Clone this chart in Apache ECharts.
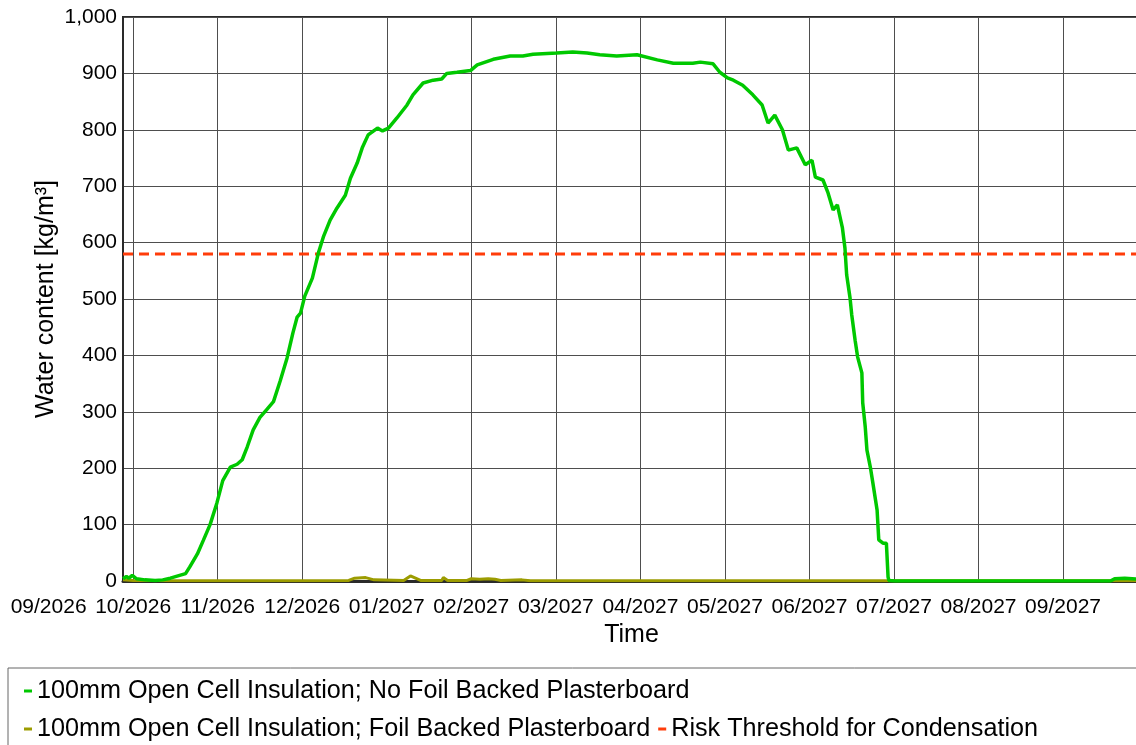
<!DOCTYPE html>
<html>
<head>
<meta charset="utf-8">
<script src="https://cdn.jsdelivr.net/npm/echarts@6/dist/echarts.min.js"></script>
<style>
html,body{margin:0;padding:0;background:#fff;}
#chart{width:1136px;height:745px;}
</style>
</head>
<body>
<div id="chart"></div>
<script>
// x unit: month index, 0 = 10/2026 (months are drawn equally spaced)
const monthLabels = ['09/2026','10/2026','11/2026','12/2026','01/2027','02/2027','03/2027','04/2027','05/2027','06/2027','07/2027','08/2027','09/2027'];
const firstLabelIndex = -1;
const xMin = -0.12;
const xMax = 11.91;

const seriesNames = [
  '100mm Open Cell Insulation; No Foil Backed Plasterboard',
  '100mm Open Cell Insulation; Foil Backed Plasterboard',
  'Risk Threshold for Condensation'
];

// 100mm Open Cell Insulation; No Foil Backed Plasterboard  [month index, kg/m3]
const noFoilX = [-0.12,-0.08,-0.05,-0.01,0.01,0.04,0.14,0.26,0.35,0.44,0.53,0.62,0.67,0.76,0.83,0.91,0.99,1.06,1.15,1.23,1.29,1.35,1.42,1.50,1.58,1.66,1.74,1.82,1.89,1.94,1.98,2.03,2.12,2.19,2.25,2.33,2.41,2.51,2.57,2.65,2.71,2.78,2.89,2.95,3.02,3.12,3.24,3.31,3.43,3.55,3.65,3.71,3.83,3.99,4.07,4.26,4.46,4.61,4.73,5.01,5.20,5.37,5.52,5.72,5.96,6.20,6.39,6.62,6.71,6.86,6.94,7.03,7.10,7.21,7.33,7.44,7.51,7.59,7.68,7.75,7.85,7.95,8.03,8.07,8.16,8.22,8.28,8.33,8.39,8.42,8.44,8.48,8.50,8.54,8.57,8.62,8.63,8.66,8.68,8.72,8.75,8.80,8.82,8.87,8.91,8.93,8.94,9.01,10.25,11.56,11.61,11.73,11.91];
const noFoilY = [4,8,5,10,13,4,2,1,2,5,9,13,25,48,72,100,138,178,202,207,215,238,268,290,304,318,355,395,440,468,475,505,537,581,610,640,661,684,714,741,768,791,803,798,803,821,844,862,883,888,890,900,902,905,915,925,931,931,934,936,938,936,933,931,933,924,918,918,920,917,902,892,888,879,862,844,812,826,800,764,768,738,746,716,711,688,658,667,626,590,543,502,472,427,397,369,316,273,232,202,174,126,73,67,67,7,1,0,0,0,4,5,3];

// 100mm Open Cell Insulation; Foil Backed Plasterboard
const foilX = [-0.12,0.0,0.5,0.93,0.94,0.96,1.88,1.90,1.92,2.55,2.62,2.75,2.85,3.20,3.28,3.34,3.40,3.65,3.67,3.72,3.95,4.00,4.10,4.20,4.28,4.35,4.60,4.70,11.91];
const foilY = [2,1,0.5,0.5,4,0.5,0.5,4,0.5,1,5,6,2,1,9,5,1,1,6,1,1,4,3,4,3,1,2,0.5,0.5];

// Risk threshold
const thresholdValue = 580;

const yTicks = {min:0, max:1000, interval:100};

const colors = {noFoil:'#00c800', foil:'#9c9c00', threshold:'#ff3c0a'};
const FONT = 'Liberation Sans, Arial, sans-serif';

function pairs(xs, ys){ return xs.map((x,i)=>[x, ys[i]]); }

const GRID_LEFT = 123, GRID_RIGHT = -4, GRID_TOP = 17, GRID_BOTTOM = 164;
const width0 = 1136 - GRID_RIGHT - GRID_LEFT;
const pxPerMonth = width0 / (xMax - xMin);
const labelGridLeft = GRID_LEFT + (firstLabelIndex - xMin) * pxPerMonth;

const chart = echarts.init(document.getElementById('chart'), null, {renderer:'canvas'});
chart.setOption({
  animation:false,
  backgroundColor:'#fff',
  grid:[
    {left:GRID_LEFT, top:GRID_TOP, right:GRID_RIGHT, bottom:GRID_BOTTOM, show:true, borderColor:'#2a2a2a', borderWidth:2, containLabel:false, outerBoundsMode:'none'},
    {left:labelGridLeft, top:GRID_TOP, right:GRID_RIGHT, bottom:GRID_BOTTOM, show:false, containLabel:false, outerBoundsMode:'none'}
  ],
  xAxis:[
    {
      gridIndex:0, type:'value', min:xMin, max:xMax, splitNumber:12,
      axisLine:{show:true, onZero:false, lineStyle:{color:'#2a2a2a', width:3}},
      axisTick:{show:false},
      axisLabel:{show:false},
      splitLine:{show:true, lineStyle:{color:'#4e4e4e', width:1}},
      name:'Time', nameLocation:'middle', nameGap:42, nameMoveOverlap:false,
      nameTextStyle:{fontSize:25, fontFamily:FONT, color:'#000'}
    },
    {
      gridIndex:1, type:'value', min:firstLabelIndex, max:xMax, interval:1,
      axisLine:{show:false}, axisTick:{show:false}, splitLine:{show:false},
      axisLabel:{
        show:true, margin:16, fontSize:21, fontFamily:FONT, color:'#000',
        showMinLabel:true, showMaxLabel:false, interval:0,
        formatter:function(v){
          const r = Math.round(v);
          if (Math.abs(v - r) > 1e-6) return '';
          return monthLabels[r - firstLabelIndex] || '';
        }
      }
    }
  ],
  yAxis:[
    {
      gridIndex:0, type:'value', min:yTicks.min, max:yTicks.max, interval:yTicks.interval,
      axisLine:{show:true, onZero:false, lineStyle:{color:'#2a2a2a', width:2}},
      axisTick:{show:false},
      splitLine:{show:true, lineStyle:{color:'#4e4e4e', width:1}},
      axisLabel:{margin:6, fontSize:21, fontFamily:FONT, color:'#000',
        formatter:function(v){ return v.toLocaleString('en-US'); }},
      name:'Water content [kg/m³]', nameLocation:'middle', nameGap:64, nameMoveOverlap:false,
      nameTextStyle:{fontSize:25, fontFamily:FONT, color:'#000'}
    },
    {gridIndex:1, type:'value', min:0, max:1000, show:false}
  ],
  legend:{
    left:8, top:668, width:1060, orient:'horizontal',
    padding:[8, 400, 200, 16],
    itemGap:8, itemWidth:8, itemHeight:3, icon:'rect',
    borderColor:'#666', borderWidth:1,
    textStyle:{fontSize:25.2, fontFamily:FONT, color:'#000', lineHeight:30},
    data:seriesNames
  },
  series:[
    {
      name:seriesNames[1], type:'line', xAxisIndex:0, yAxisIndex:0,
      data:pairs(foilX, foilY), showSymbol:false, symbol:'none', z:3,
      lineStyle:{color:colors.foil, width:3}, itemStyle:{color:colors.foil}
    },
    {
      name:seriesNames[2], type:'line', xAxisIndex:0, yAxisIndex:0,
      data:[[xMin, thresholdValue],[xMax, thresholdValue]], showSymbol:false, symbol:'none', z:4,
      lineStyle:{color:colors.threshold, width:3, type:[10,6]}, itemStyle:{color:colors.threshold}
    },
    {
      name:seriesNames[0], type:'line', xAxisIndex:0, yAxisIndex:0,
      data:pairs(noFoilX, noFoilY), showSymbol:false, symbol:'none', z:5,
      lineStyle:{color:colors.noFoil, width:3.5}, itemStyle:{color:colors.noFoil}
    }
  ]
});
</script>
</body>
</html>
